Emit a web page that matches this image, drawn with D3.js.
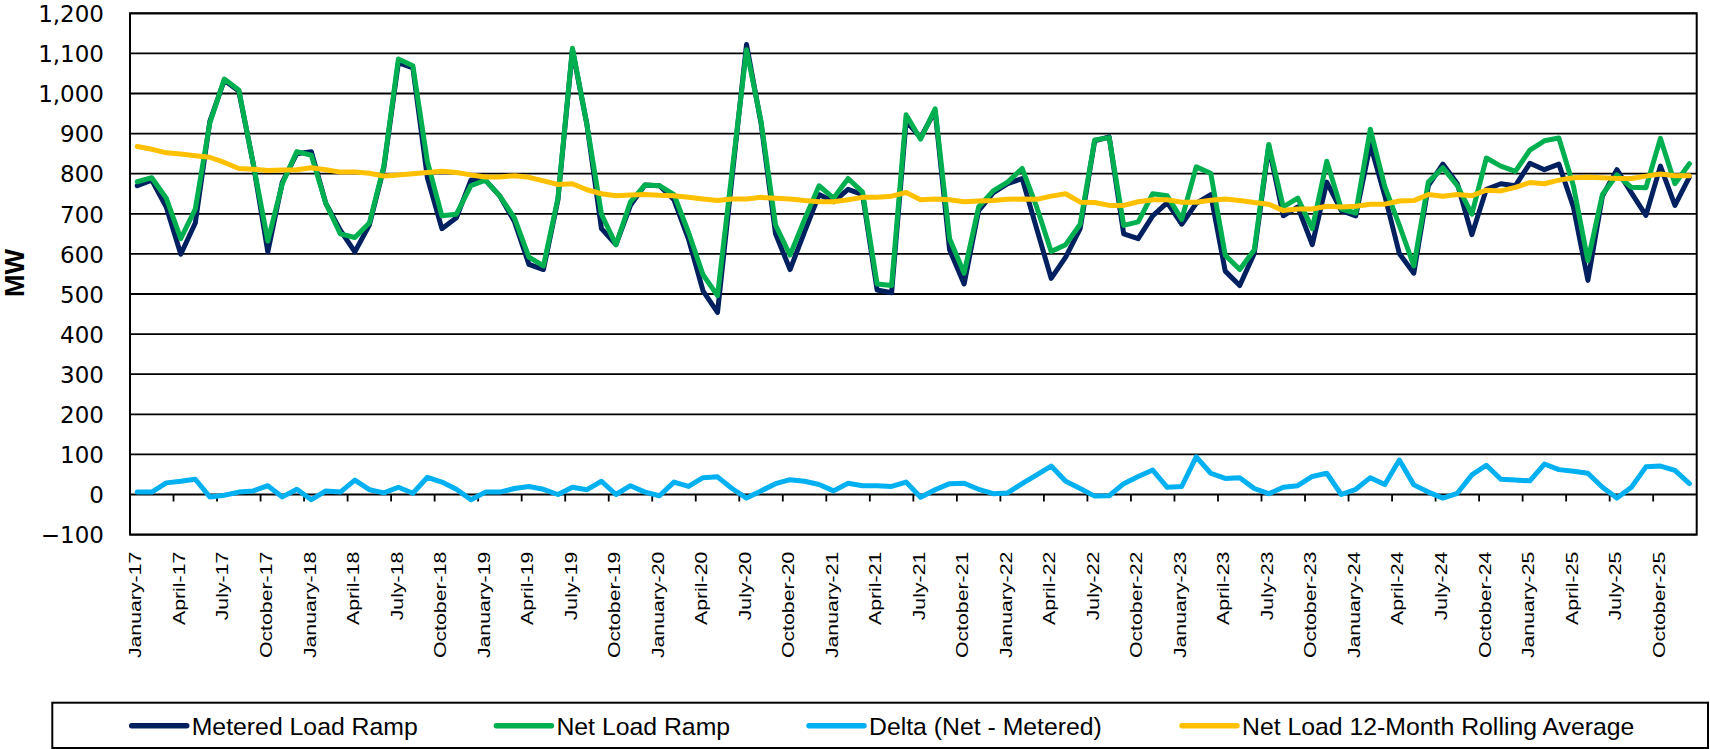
<!DOCTYPE html>
<html>
<head>
<meta charset="utf-8">
<script src="https://cdn.jsdelivr.net/npm/d3@7/dist/d3.min.js"></script>
<style>
  html, body { margin: 0; padding: 0; background: #fff; }
  svg { display: block; }
</style>
</head>
<body>
<svg id="chart" width="1710" height="749"></svg>
<script>
// ---------------- DATA ----------------
const monthNames = ["January","February","March","April","May","June","July","August","September","October","November","December"];
const years = ["17","18","19","20","21","22","23","24","25"];
const categories = [];
years.forEach(y => monthNames.forEach(m => categories.push(m + "-" + y)));

const meteredLoadRamp = [
  770, 784, 717, 599, 677, 930, 1033, 1006, 824, 605,
  779, 850, 855, 726, 659, 605, 672, 815, 1077, 1064,
  790, 663, 690, 784, 784, 744, 681, 574, 561, 735,
  1109, 922, 663, 623, 721, 772, 770, 735, 637, 508,
  454, 790, 1122, 926, 650, 561, 655, 748, 730, 761,
  748, 510, 503, 931, 890, 957, 610, 525, 708, 752,
  775, 788, 663, 539, 592, 663, 882, 892, 650, 638,
  695, 728, 674, 726, 748, 557, 521, 601, 868, 695,
  717, 623, 779, 708, 695, 873, 745, 601, 552, 770,
  824, 775, 648, 761, 775, 770, 826, 810, 824, 717,
  534, 744, 810, 752, 696, 819, 721, 792
];
const netLoadRamp = [
  780, 790, 739, 638, 712, 926, 1036, 1009, 824, 632,
  775, 855, 846, 726, 650, 641, 677, 819, 1086, 1069,
  830, 695, 699, 770, 784, 744, 690, 592, 570, 739,
  1113, 922, 699, 623, 730, 772, 770, 748, 654, 548,
  496, 805, 1109, 931, 672, 597, 686, 770, 739, 788,
  754, 525, 521, 947, 886, 962, 638, 552, 717, 757,
  779, 813, 717, 606, 623, 674, 884, 890, 671, 680,
  750, 745, 686, 817, 801, 597, 561, 610, 873, 717,
  739, 663, 831, 712, 702, 911, 768, 672, 570, 779,
  815, 770, 699, 839, 819, 806, 859, 882, 889, 770,
  583, 748, 797, 766, 765, 888, 775, 825
];
const deltaNetMetered = [
  6, 6, 29, 33, 38, -6, -2, 6, 9, 22,
  -6, 13, -13, 9, 6, 36, 12, 4, 18, 3,
  43, 31, 13, -13, 6, 6, 15, 20, 13, 0,
  18, 12, 33, 0, 22, 6, -3, 31, 20, 42,
  44, 15, -9, 9, 27, 37, 33, 25, 9, 28,
  22, 22, 20, 31, -7, 12, 27, 28, 13, 2,
  4, 27, 49, 71, 33, 15, -4, -3, 27, 45,
  61, 18, 20, 94, 53, 40, 42, 15, 2, 18,
  22, 45, 53, 0, 13, 42, 25, 86, 24, 6,
  -9, 3, 49, 73, 38, 36, 34, 76, 62, 58,
  53, 18, -9, 18, 69, 71, 60, 27
];
const netLoadRollingAvg = [
  868, 861, 852, 849, 845, 841, 828, 813, 811, 808,
  809, 810, 815, 810, 804, 804, 801, 794, 797, 800,
  803, 806, 803, 797, 792, 792, 795, 791, 782, 773,
  775, 760, 750, 745, 747, 748, 746, 745, 741, 737,
  733, 737, 737, 741, 739, 737, 733, 730, 730, 735,
  741, 741, 744, 753, 735, 737, 735, 730, 732, 733,
  736, 737, 736, 744, 750, 729, 728, 721, 721, 730,
  735, 735, 729, 729, 734, 737, 733, 728, 724, 708,
  712, 712, 719, 717, 719, 724, 724, 732, 733, 748,
  744, 748, 745, 759, 757, 766, 778, 775, 784, 790,
  791, 790, 788, 788, 794, 799, 795, 795
];
const yTickValues = [-100, 0, 100, 200, 300, 400, 500, 600, 700, 800, 900, 1000, 1100, 1200];
const seriesNames = ["Metered Load Ramp", "Net Load Ramp", "Delta (Net - Metered)", "Net Load 12-Month Rolling Average"];
const seriesColors = ["#002060", "#00B050", "#00B0F0", "#FFC000"];

// ---------------- CHART ----------------
const svg = d3.select("#chart");
const plot = { left: 130, right: 1696.7, top: 13.3, bottom: 534.6 };

const x = d3.scaleBand().domain(categories).range([plot.left, plot.right]).paddingInner(0).paddingOuter(0);
const xc = d => x(d) + x.bandwidth() / 2;
const y = d3.scaleLinear().domain([-100, 1200]).range([plot.bottom, plot.top]);

// gridlines
svg.append("g").selectAll("line").data(yTickValues).join("line")
  .attr("x1", plot.left).attr("x2", plot.right)
  .attr("y1", d => y(d)).attr("y2", d => y(d))
  .attr("stroke", "#000").attr("stroke-width", 1.8);

// y axis labels
const yAxis = d3.axisLeft(y).tickValues(yTickValues).tickSize(0).tickPadding(0)
  .tickFormat(d3.format(","));
const yg = svg.append("g").attr("transform", `translate(104,0)`).call(yAxis);
yg.select(".domain").remove();
yg.selectAll("text")
  .attr("x", 0).attr("dy", "0.36em")
  .attr("font-family", "'DejaVu Sans', sans-serif").attr("font-size", 23)
  .attr("fill", "#000").attr("text-anchor", "end");

// x tick marks every 3 months (category boundaries) hanging from the zero line
const tickIdx = categories.map((c, i) => i).filter(i => i % 3 === 0 && i > 0);
svg.append("g").selectAll("line").data(tickIdx).join("line")
  .attr("x1", i => x(categories[i])).attr("x2", i => x(categories[i]))
  .attr("y1", y(0)).attr("y2", y(0) + 7)
  .attr("stroke", "#000").attr("stroke-width", 1.8);

// x labels
const labelCats = categories.filter((c, i) => i % 3 === 0);
svg.append("g").selectAll("text").data(labelCats).join("text")
  .attr("transform", d => `translate(${xc(d)},551.7) rotate(-90) scale(1.33,1)`)
  .attr("text-anchor", "end").attr("dy", "0.26em")
  .attr("font-family", "'Liberation Sans', Arial, sans-serif").attr("font-size", 16)
  .attr("fill", "#000")
  .text(d => d);

// frame
svg.append("rect")
  .attr("x", plot.left).attr("y", plot.top)
  .attr("width", plot.right - plot.left).attr("height", plot.bottom - plot.top)
  .attr("fill", "none").attr("stroke", "#000").attr("stroke-width", 2);

// y title
svg.append("text")
  .attr("transform", `translate(23.5,273) rotate(-90)`)
  .attr("text-anchor", "middle")
  .attr("font-family", "'Liberation Sans', Arial, sans-serif").attr("font-weight", "bold")
  .attr("font-size", 27).attr("fill", "#000")
  .text("MW");

// lines
const allSeries = [meteredLoadRamp, netLoadRamp, deltaNetMetered, netLoadRollingAvg];
const line = d3.line().x((d, i) => xc(categories[i])).y(d => y(d));
allSeries.forEach((s, k) => {
  svg.append("path").datum(s)
    .attr("d", line)
    .attr("fill", "none")
    .attr("stroke", seriesColors[k])
    .attr("stroke-width", 5)
    .attr("stroke-linejoin", "round")
    .attr("stroke-linecap", "round");
});

// legend
svg.append("rect")
  .attr("x", 52.3).attr("y", 702.7).attr("width", 1708 - 52.3).attr("height", 748 - 702.7)
  .attr("fill", "none").attr("stroke", "#000").attr("stroke-width", 2);
const legendX = [131.7, 496.4, 809, 1182];
const lg = svg.append("g").selectAll("g").data(seriesNames).join("g")
  .attr("transform", (d, i) => `translate(${legendX[i]},0)`);
lg.append("line")
  .attr("x1", 0).attr("x2", 55).attr("y1", 725.7).attr("y2", 725.7)
  .attr("stroke", (d, i) => seriesColors[i]).attr("stroke-width", 5.5)
  .attr("stroke-linecap", "round");
lg.append("text")
  .attr("x", 60).attr("y", 735)
  .attr("font-family", "'Liberation Sans', Arial, sans-serif").attr("font-size", 24.8)
  .attr("fill", "#000")
  .text(d => d);
</script>
</body>
</html>
